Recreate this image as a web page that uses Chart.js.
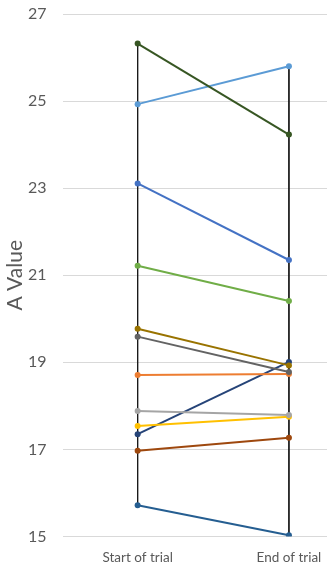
<!DOCTYPE html>
<html>
<head>
<meta charset="utf-8">
<script src="https://cdn.jsdelivr.net/npm/chart.js@4/dist/chart.umd.min.js"></script>
<style>
  html, body { margin: 0; padding: 0; background: #ffffff; }
  #wrap { position: relative; width: 330px; height: 564px; }
</style>
</head>
<body>
<div id="wrap"><canvas id="c" width="330" height="564"></canvas></div>
<script>
// ---- data ----
const categories = ["Start of trial", "End of trial"];
const yTicks = [15, 17, 19, 21, 23, 25, 27];
const seriesNames = ["S1","S2","S3","S4","S5","S6","S7","S8","S9","S10","S11","S12"];
const startValues = [26.32, 24.93, 23.11, 21.22, 19.77, 19.59, 18.71, 17.88, 17.54, 17.35, 16.97, 15.72];
const endValues   = [24.23, 25.80, 21.35, 20.41, 18.93, 18.78, 18.73, 17.79, 17.75, 19.01, 17.27, 15.03];

// ---- styles ----
const seriesColors = ["#375623", "#5B9BD5", "#4472C4", "#70AD47", "#997300", "#636363",
                      "#ED7D31", "#A5A5A5", "#FFC000", "#264478", "#9E480E", "#255E91"];
const FONT = "Lato, 'Open Sans', sans-serif";

const datasets = seriesNames.map((name, i) => ({
  label: name,
  data: [{x: 0, y: startValues[i]}, {x: 1, y: endValues[i]}],
  borderColor: seriesColors[i],
  backgroundColor: seriesColors[i],
  borderWidth: 2,
  pointRadius: 3,
  pointBorderWidth: 0,
  pointHoverRadius: 3,
  order: 1
}));

// high-low lines
[startValues, endValues].forEach((vals, ci) => {
  datasets.push({
    label: "hl" + ci,
    data: [{x: ci, y: Math.max(...vals)}, {x: ci, y: Math.min(...vals)}],
    borderColor: "#1a1a1a",
    borderWidth: 1,
    pointRadius: 0,
    order: 100
  });
});

new Chart(document.getElementById("c"), {
  type: "line",
  data: { datasets },
  options: {
    responsive: false,
    animation: false,
    devicePixelRatio: 1,
    layout: { padding: { top: 14, right: 0, left: 3, bottom: 0 } },
    plugins: { legend: { display: false }, tooltip: { enabled: false } },
    scales: {
      x: {
        type: "linear",
        min: -0.4967,
        max: 1.2516,
        afterBuildTicks: (s) => { s.ticks = categories.map((_, i) => ({ value: i })); },
        afterFit: (s) => { s.height = 27.5; s.paddingLeft = 0; s.paddingRight = 0; },
        ticks: {
          callback: (v) => categories[v],
          color: "#595959",
          font: { family: FONT, size: 13.5 },
          padding: 13,
          maxRotation: 0,
          autoSkip: false
        },
        grid: { display: false, drawTicks: false },
        border: { display: false }
      },
      y: {
        min: 15,
        max: 27,
        afterBuildTicks: (s) => { s.ticks = yTicks.map(v => ({ value: v })); },
        afterFit: (s) => { s.width = 59.5; s.paddingTop = 0; s.paddingBottom = 0; },
        ticks: {
          color: "#595959",
          font: { family: FONT, size: 16 },
          padding: 16
        },
        grid: { color: "#d9d9d9", lineWidth: 1, drawTicks: false },
        border: { display: false },
        title: {
          display: true,
          text: "A Value",
          color: "#595959",
          font: { family: FONT, size: 21 },
          padding: 0
        }
      }
    }
  }
});
</script>
</body>
</html>
